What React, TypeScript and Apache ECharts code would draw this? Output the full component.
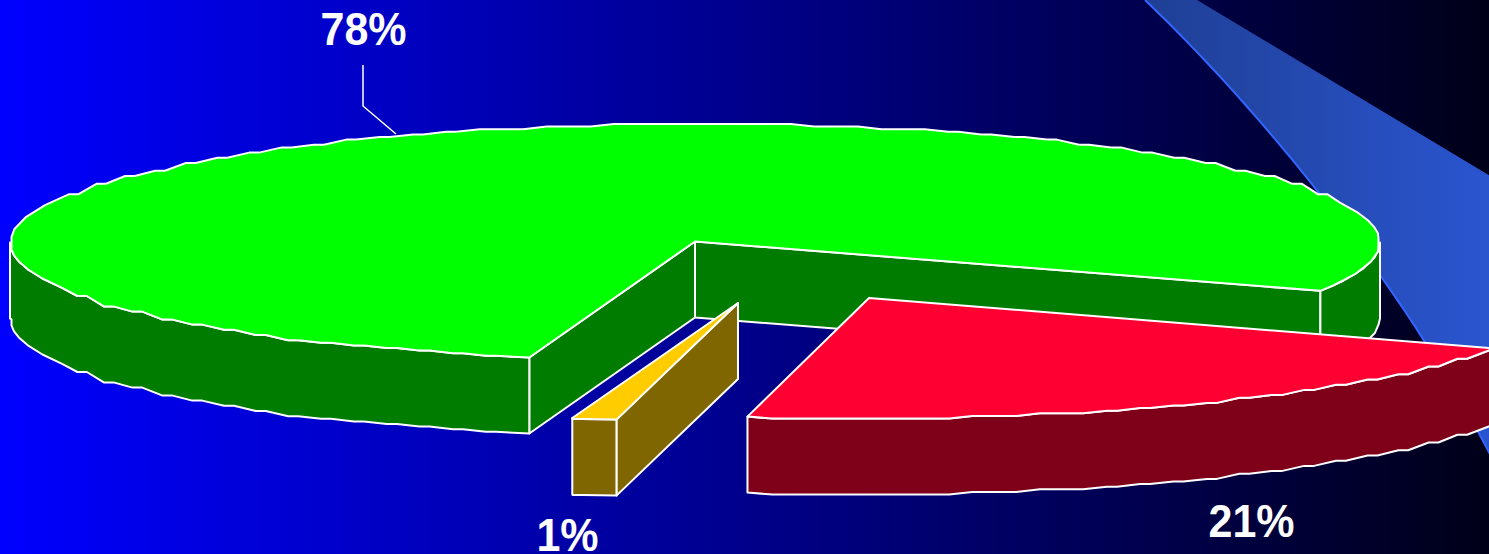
import React, { useEffect, useRef } from "react";
import * as echarts from "echarts";

const sliceNames = ["Green", "Red", "Amber"];
const sliceValues = [77.8, 21.15, 1.05];
const sliceLabels = ["78%", "21%", "1%"];

const topColors = ["#00FF00", "#FF0033", "#FFCC00"];
const sideColors = ["#007C00", "#7F0019", "#7F6600"];

// Projection of the 3D pie
const RX = 685;
const RY = 118.5;
const DEPTH = 76;
const START_ANGLE = 104;
const apexes = [
  [695, 241.5],
  [869, 298],
  [738, 303],
];
const rimShift = [1, 2, 0];
const labelPos = [
  [363.5, 29],
  [1251.5, 521],
  [567.5, 535],
];

const WIDTH = 1489;
const HEIGHT = 554;

const rad = (d: number) => (d * Math.PI) / 180;
const onEllipse = (c: number[], a: number) => [c[0] + RX * Math.cos(rad(a)), c[1] + RY * Math.sin(rad(a))];

// The source pie is a low-resolution vector drawing: its rim is made of short chords with small
// flats, its y values snap to a coarse grid, and its two tips end in short vertical stubs.
function snap(c: number[], p: number[], ux: number) {
  const tip = RX - 1.5;
  const x = Math.max(c[0] - tip, Math.min(c[0] + tip, p[0]));
  let y = p[1];
  if (Math.abs(ux) > 0.93) {
    const dy = y - c[1];
    const d = RY - Math.abs(dy);
    y = c[1] + Math.sign(dy) * (RY - Math.round(d / 2.6) * 2.6);
  }
  return [x, y];
}

function rim(c: number[], a0: number, a1: number) {
  const pts: number[][] = [onEllipse(c, a0)];
  let last = pts[0];
  let run = 0;
  const step = 0.1;
  for (let a = a0 + step; a < a1 - 0.4; a += step) {
    const p = onEllipse(c, a);
    run += Math.hypot(p[0] - last[0], p[1] - last[1]);
    last = p;
    const q = onEllipse(c, a + 0.3);
    const dx = q[0] - p[0];
    const dy = q[1] - p[1];
    const ux = dx / (Math.hypot(dx, dy) || 1);
    if (run >= 6 + 27 * ux * ux * ux * ux) {
      run = 0;
      const s = snap(c, p, ux);
      pts.push(s);
      if (Math.abs(ux) > 0.93) pts.push([s[0] + 10 * ux, s[1]]);
    }
  }
  pts.push(onEllipse(c, a1));
  return pts;
}

const down = (pts: number[][]) => pts.map((p) => [p[0], p[1] + DEPTH]);

function frontRanges(a0: number, a1: number) {
  const out: number[][] = [];
  for (let k = -1; k < 3; k++) {
    const lo = Math.max(a0, k * 360);
    const hi = Math.min(a1, k * 360 + 180);
    if (hi > lo) out.push([lo, hi]);
  }
  return out;
}

const total = sliceValues.reduce((s, v) => s + v, 0);
const starts = sliceValues.map((_, i) =>
  START_ANGLE + (sliceValues.slice(0, i).reduce((s, v) => s + v, 0) / total) * 360
);

const edge = { stroke: "#FFFFFF", lineWidth: 2, lineJoin: "round" as const };

function renderSlice(params: any, api: any) {
  const i = params.dataIndex;
  const sweep = (api.value(0) / total) * 360;
  const a0 = starts[i];
  const a1 = a0 + sweep;
  const c = apexes[i];
  const rc = [c[0], c[1] + rimShift[i]];
  const children: any[] = [];
  const poly = (points: number[][], fill: string) =>
    children.push({ type: "polygon", shape: { points }, style: { fill, ...edge } });

  const sideFace = (a: number) => {
    const p = onEllipse(rc, a);
    poly([c, p, [p[0], p[1] + DEPTH], [c[0], c[1] + DEPTH]], sideColors[i]);
  };
  if (Math.sin(rad(a1 + 90)) > 0) sideFace(a1);
  if (Math.sin(rad(a0 - 90)) > 0) sideFace(a0);

  frontRanges(a0, a1).forEach(([lo, hi]) => {
    const r = rim(rc, lo, hi);
    poly([...r, ...down(r).reverse()], sideColors[i]);
  });

  poly([c, ...rim(rc, a0, a1)], topColors[i]);

  children.push({
    type: "text",
    x: labelPos[i][0],
    y: labelPos[i][1],
    scaleY: 1.06,
    style: {
      text: sliceLabels[i],
      fill: "#FFFFFF",
      font: 'bold 43px "Liberation Sans", Arial, sans-serif',
      lineHeight: 34,
      align: "center",
      verticalAlign: "middle",
    },
  });
  return { type: "group", children };
}

// Decorative swoosh behind the pie
function swooshCurve() {
  const p0 = [1145, 0];
  const p1 = [1260, 110];
  const p2 = [1400, 280];
  const p3 = [1492, 458];
  const pts: number[][] = [];
  for (let k = 0; k <= 60; k++) {
    const t = k / 60;
    const u = 1 - t;
    pts.push([
      u * u * u * p0[0] + 3 * u * u * t * p1[0] + 3 * u * t * t * p2[0] + t * t * t * p3[0],
      u * u * u * p0[1] + 3 * u * u * t * p1[1] + 3 * u * t * t * p2[1] + t * t * t * p3[1],
    ]);
  }
  return pts;
}

export default function App() {
  const ref = useRef<HTMLDivElement | null>(null);
  useEffect(() => {
    document.body.style.margin = "0";
    const chart = echarts.init(ref.current!, undefined, { renderer: "svg" });
    const curve = swooshCurve();
    chart.setOption({
      animation: false,
      backgroundColor: {
        type: "linear",
        x: 0,
        y: 0,
        x2: 1,
        y2: 0,
        colorStops: [
          { offset: 0, color: "#0000FF" },
          { offset: 1, color: "#000018" },
        ],
      },
      graphic: {
        elements: [
          {
            type: "polygon",
            z: 0,
            shape: { points: [[1197, 0], [1492, 177], [1492, 458], ...curve.slice().reverse()] },
            style: {
              fill: {
                type: "linear",
                global: true,
                x: 1145,
                y: 0,
                x2: 1489,
                y2: 0,
                colorStops: [
                  { offset: 0, color: "#1F3F94" },
                  { offset: 1, color: "#2A55D0" },
                ],
              },
            },
          },
          {
            type: "polyline",
            z: 1,
            shape: { points: curve },
            style: { stroke: "#3366FF", lineWidth: 2, fill: "none" },
          },
          {
            type: "polyline",
            z: 20,
            shape: { points: [[363, 65], [363, 106], [396, 134]] },
            style: { stroke: "#FFFFFF", lineWidth: 1.5, fill: "none" },
          },
        ],
      },
      series: [
        {
          type: "custom",
          coordinateSystem: "none",
          z: 10,
          silent: true,
          clip: false,
          renderItem: renderSlice,
          data: sliceValues.map((v, i) => ({ name: sliceNames[i], value: [v] })),
        },
      ],
    });
    return () => chart.dispose();
  }, []);
  return <div ref={ref} style={{ width: WIDTH, height: HEIGHT, overflow: "hidden" }} />;
}
